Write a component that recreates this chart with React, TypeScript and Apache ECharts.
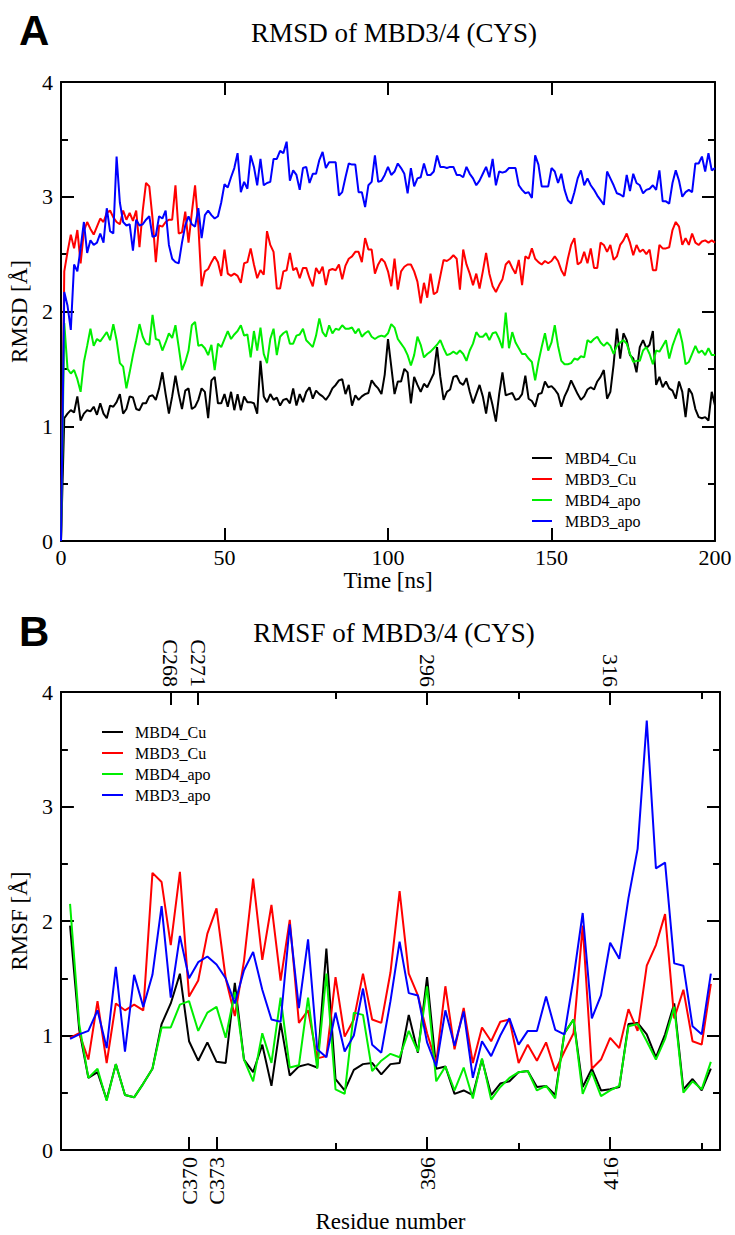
import React, { useEffect, useRef } from "react";
import * as echarts from "echarts";

// ---------- Panel A: RMSD vs time (ns), one sample per ns from 0 ----------
const TIME_START = 0;
const TIME_STEP = 1;
const rmsdMBD4Cu = [0, 1.07, 1.11, 1.14, 1.12, 1.26, 1.05, 1.11, 1.14, 1.13,
  1.17, 1.10, 1.20, 1.11, 1.07, 1.18, 1.17, 1.21, 1.28, 1.11,
  1.15, 1.26, 1.25, 1.15, 1.14, 1.20, 1.20, 1.26, 1.27, 1.23,
  1.33, 1.47, 1.28, 1.11, 1.26, 1.44, 1.28, 1.15, 1.31, 1.33,
  1.15, 1.17, 1.23, 1.33, 1.30, 1.07, 1.40, 1.43, 1.20, 1.20,
  1.28, 1.17, 1.30, 1.14, 1.28, 1.14, 1.26, 1.21, 1.21, 1.20,
  1.11, 1.57, 1.26, 1.21, 1.28, 1.23, 1.25, 1.18, 1.23, 1.24,
  1.20, 1.33, 1.18, 1.28, 1.21, 1.30, 1.34, 1.24, 1.31, 1.28,
  1.26, 1.23, 1.27, 1.33, 1.36, 1.40, 1.41, 1.28, 1.36, 1.18,
  1.27, 1.23, 1.26, 1.28, 1.29, 1.40, 1.36, 1.33, 1.28, 1.45,
  1.76, 1.52, 1.28, 1.39, 1.39, 1.50, 1.47, 1.20, 1.43, 1.36,
  1.30, 1.37, 1.34, 1.40, 1.46, 1.69, 1.43, 1.23, 1.30, 1.32,
  1.43, 1.44, 1.38, 1.36, 1.42, 1.30, 1.20, 1.28, 1.36, 1.26,
  1.11, 1.30, 1.18, 1.04, 1.28, 1.47, 1.27, 1.28, 1.29, 1.23,
  1.24, 1.28, 1.44, 1.24, 1.22, 1.17, 1.28, 1.29, 1.39, 1.34,
  1.35, 1.32, 1.28, 1.17, 1.26, 1.32, 1.40, 1.34, 1.28, 1.23,
  1.26, 1.32, 1.34, 1.32, 1.39, 1.43, 1.49, 1.24, 1.30, 1.54,
  1.85, 1.59, 1.81, 1.75, 1.62, 1.59, 1.47, 1.69, 1.75, 1.68,
  1.71, 1.83, 1.36, 1.43, 1.34, 1.39, 1.33, 1.31, 1.24, 1.39,
  1.30, 1.08, 1.33, 1.28, 1.15, 1.08, 1.07, 1.08, 1.05, 1.30,
  1.18];
const rmsdMBD3Cu = [0, 2.35, 2.52, 2.67, 2.55, 2.71, 2.42, 2.70, 2.78, 2.72,
  2.67, 2.74, 2.81, 2.78, 2.86, 2.88, 2.82, 2.78, 2.76, 2.88,
  2.80, 2.86, 2.79, 2.88, 2.56, 2.88, 3.12, 3.09, 2.81, 2.43,
  2.75, 2.74, 2.78, 2.80, 2.80, 3.10, 2.68, 2.69, 2.87, 2.60,
  2.86, 3.10, 2.75, 2.22, 2.35, 2.37, 2.43, 2.48, 2.43, 2.31,
  2.54, 2.33, 2.31, 2.33, 2.31, 2.25, 2.42, 2.43, 2.55, 2.41,
  2.29, 2.36, 2.32, 2.70, 2.58, 2.52, 2.20, 2.20, 2.35, 2.36,
  2.51, 2.36, 2.38, 2.29, 2.38, 2.38, 2.29, 2.22, 2.38, 2.33,
  2.39, 2.23, 2.36, 2.37, 2.36, 2.41, 2.28, 2.40, 2.46, 2.48,
  2.52, 2.52, 2.43, 2.64, 2.54, 2.54, 2.33, 2.41, 2.46, 2.43,
  2.35, 2.22, 2.46, 2.19, 2.35, 2.39, 2.41, 2.41, 2.35, 2.26,
  2.07, 2.25, 2.12, 2.33, 2.15, 2.17, 2.31, 2.45, 2.44, 2.46,
  2.49, 2.46, 2.19, 2.54, 2.41, 2.33, 2.23, 2.33, 2.20, 2.35,
  2.51, 2.33, 2.22, 2.17, 2.23, 2.28, 2.41, 2.44, 2.38, 2.33,
  2.45, 2.23, 2.48, 2.46, 2.55, 2.46, 2.43, 2.41, 2.44, 2.42,
  2.44, 2.48, 2.44, 2.36, 2.31, 2.46, 2.58, 2.64, 2.41, 2.43,
  2.52, 2.42, 2.55, 2.38, 2.38, 2.60, 2.58, 2.52, 2.58, 2.45,
  2.48, 2.58, 2.62, 2.68, 2.60, 2.49, 2.58, 2.52, 2.54, 2.50,
  2.54, 2.36, 2.36, 2.58, 2.55, 2.55, 2.56, 2.71, 2.78, 2.74,
  2.58, 2.64, 2.58, 2.68, 2.60, 2.58, 2.61, 2.62, 2.60, 2.62,
  2.60];
const rmsdMBD4apo = [0, 1.90, 1.50, 1.46, 1.49, 1.41, 1.30, 1.56, 1.70, 1.85,
  1.70, 1.76, 1.74, 1.78, 1.82, 1.75, 1.89, 1.75, 1.55, 1.52,
  1.33, 1.47, 1.62, 1.75, 1.89, 1.78, 1.72, 1.71, 1.97, 1.76,
  1.75, 1.66, 1.73, 1.81, 1.77, 1.88, 1.69, 1.49, 1.56, 1.66,
  1.88, 1.91, 1.70, 1.71, 1.68, 1.62, 1.71, 1.49, 1.72, 1.69,
  1.76, 1.83, 1.76, 1.80, 1.83, 1.88, 1.79, 1.80, 1.60, 1.83,
  1.66, 1.86, 1.63, 1.55, 1.76, 1.85, 1.62, 1.78, 1.81, 1.83,
  1.72, 1.72, 1.79, 1.80, 1.85, 1.75, 1.72, 1.69, 1.79, 1.94,
  1.82, 1.78, 1.88, 1.81, 1.85, 1.84, 1.88, 1.85, 1.85, 1.86,
  1.81, 1.85, 1.78, 1.81, 1.83, 1.78, 1.76, 1.78, 1.79, 1.78,
  1.81, 1.89, 1.86, 1.76, 1.72, 1.68, 1.62, 1.53, 1.62, 1.78,
  1.71, 1.60, 1.63, 1.65, 1.68, 1.71, 1.75, 1.68, 1.62, 1.63,
  1.65, 1.63, 1.66, 1.63, 1.57, 1.66, 1.72, 1.82, 1.78, 1.78,
  1.81, 1.75, 1.81, 1.82, 1.76, 1.68, 1.99, 1.68, 1.82, 1.73,
  1.68, 1.63, 1.63, 1.59, 1.56, 1.40, 1.56, 1.69, 1.81, 1.66,
  1.73, 1.88, 1.70, 1.57, 1.54, 1.54, 1.55, 1.59, 1.58, 1.61,
  1.60, 1.75, 1.73, 1.76, 1.78, 1.73, 1.70, 1.73, 1.70, 1.63,
  1.70, 1.73, 1.75, 1.72, 1.63, 1.56, 1.57, 1.57, 1.66, 1.69,
  1.63, 1.54, 1.66, 1.65, 1.70, 1.75, 1.59, 1.70, 1.78, 1.85,
  1.73, 1.54, 1.56, 1.63, 1.70, 1.64, 1.66, 1.62, 1.68, 1.62,
  1.62];
const rmsdMBD3apo = [0, 2.17, 2.05, 1.84, 2.41, 2.35, 2.55, 2.78, 2.51, 2.62,
  2.58, 2.60, 2.68, 2.60, 2.90, 2.70, 2.68, 3.35, 2.95, 2.78,
  2.75, 2.76, 2.53, 2.80, 2.75, 2.76, 2.80, 2.83, 2.65, 2.66,
  2.83, 2.81, 2.88, 2.58, 2.46, 2.43, 2.42, 2.60, 2.75, 2.83,
  2.76, 2.74, 2.90, 2.64, 2.84, 2.88, 2.84, 2.81, 2.83, 2.95,
  3.11, 3.08, 3.17, 3.25, 3.38, 3.04, 3.13, 3.07, 3.36, 3.26,
  3.10, 3.33, 3.10, 3.12, 3.13, 3.33, 3.33, 3.40, 3.38, 3.48,
  3.14, 3.23, 3.19, 3.06, 3.25, 3.26, 3.12, 3.20, 3.20, 3.32,
  3.39, 3.25, 3.30, 3.30, 3.30, 3.01, 3.04, 3.17, 3.29, 3.28,
  3.28, 3.04, 3.04, 2.91, 3.10, 3.13, 3.36, 3.13, 3.14, 3.19,
  3.26, 3.19, 3.22, 3.29, 3.25, 3.20, 3.03, 3.25, 3.09, 3.16,
  3.17, 3.29, 3.19, 3.19, 3.22, 3.36, 3.26, 3.26, 3.25, 3.26,
  3.26, 3.19, 3.19, 3.17, 3.26, 3.20, 3.16, 3.10, 3.14, 3.20,
  3.26, 3.17, 3.33, 3.10, 3.22, 3.21, 3.22, 3.25, 3.25, 3.25,
  3.10, 3.06, 3.03, 3.04, 2.99, 3.36, 3.28, 3.09, 3.09, 3.09,
  3.25, 3.22, 3.12, 3.20, 3.06, 2.97, 2.94, 3.04, 3.16, 3.23,
  3.10, 3.16, 3.10, 3.06, 3.01, 2.97, 2.93, 3.22, 3.16, 3.10,
  3.03, 3.02, 3.00, 3.19, 3.05, 3.20, 3.12, 3.10, 3.03, 3.06,
  3.07, 3.10, 3.06, 3.23, 2.96, 2.96, 2.94, 3.12, 3.23, 3.14,
  3.00, 3.04, 3.06, 3.04, 3.29, 3.29, 3.35, 3.22, 3.38, 3.23,
  3.25];

// ---------- Panel B: RMSF per residue, residues 357..427 ----------
const RESIDUE_START = 357;
const rmsfMBD4Cu = [1.96, 1.05, 0.63, 0.68, 0.44, 0.75, 0.48, 0.46, 0.58, 0.71,
  1.10, 1.28, 1.54, 0.95, 0.78, 0.94, 0.77, 0.76, 1.46, 0.79,
  0.68, 0.92, 0.56, 1.11, 0.65, 0.73, 0.75, 0.72, 1.76, 0.62,
  0.52, 0.70, 0.75, 0.76, 0.66, 0.75, 0.76, 1.18, 0.85, 1.51,
  0.71, 0.73, 0.49, 0.52, 0.48, 0.79, 0.48, 0.58, 0.60, 0.68,
  0.69, 0.55, 0.56, 0.48, 1.02, 1.14, 0.55, 0.71, 0.52, 0.53,
  0.55, 1.10, 1.11, 1.01, 0.81, 1.01, 1.28, 0.53, 0.62, 0.52,
  0.71];
const rmsfMBD3Cu = [0.98, 1.02, 0.79, 1.30, 0.76, 1.28, 1.22, 1.27, 1.22, 2.42,
  2.34, 1.79, 2.43, 1.34, 1.48, 1.89, 2.11, 1.50, 1.17, 1.65,
  2.37, 1.66, 2.14, 1.48, 2.01, 1.11, 1.22, 0.80, 0.82, 1.51,
  0.99, 1.14, 1.54, 1.14, 1.11, 1.55, 2.26, 1.54, 1.35, 1.02,
  0.76, 1.43, 0.88, 1.24, 0.76, 1.07, 0.95, 1.12, 1.14, 0.76,
  0.92, 0.78, 0.94, 0.69, 0.86, 1.02, 1.96, 0.71, 0.79, 0.98,
  0.89, 1.23, 1.04, 1.61, 1.79, 2.06, 1.15, 1.40, 0.95, 0.92,
  1.45];
const rmsfMBD4apo = [2.15, 1.10, 0.63, 0.71, 0.43, 0.75, 0.48, 0.46, 0.58, 0.71,
  1.07, 1.07, 1.27, 1.30, 1.04, 1.20, 1.25, 0.98, 1.38, 0.79,
  0.60, 1.02, 0.76, 1.33, 0.72, 0.74, 1.33, 0.71, 1.54, 0.53,
  0.49, 1.20, 1.18, 0.69, 0.78, 0.84, 0.81, 1.04, 0.86, 1.43,
  0.60, 0.73, 0.52, 0.72, 0.45, 0.80, 0.44, 0.55, 0.63, 0.68,
  0.69, 0.52, 0.56, 0.45, 1.02, 1.14, 0.49, 0.68, 0.47, 0.52,
  0.56, 1.08, 1.10, 0.95, 0.79, 0.97, 1.25, 0.50, 0.60, 0.53,
  0.77];
const rmsfMBD3apo = [0.97, 1.01, 1.04, 1.22, 0.89, 1.60, 0.86, 1.53, 1.25, 1.53,
  2.13, 1.33, 1.87, 1.50, 1.64, 1.69, 1.62, 1.50, 1.28, 1.57,
  1.73, 1.40, 1.14, 1.12, 1.97, 1.24, 1.84, 0.88, 0.81, 1.20,
  0.86, 1.00, 1.41, 0.92, 0.85, 1.30, 1.82, 1.37, 1.35, 0.94,
  0.73, 1.22, 0.91, 1.21, 0.63, 0.95, 0.82, 1.00, 1.15, 0.92,
  1.04, 1.04, 1.34, 1.05, 1.01, 1.50, 2.07, 1.15, 1.35, 1.81,
  1.67, 2.20, 2.63, 3.75, 2.46, 2.51, 1.63, 1.61, 1.08, 1.01,
  1.54];

const seriesNames = ["MBD4_Cu", "MBD3_Cu", "MBD4_apo", "MBD3_apo"];
const seriesColors = ["#000000", "#ff0000", "#00ee00", "#0000ff"];

// Tick labels
const timeTicks = [0, 50, 100, 150, 200];
const bottomMajorTicks = [370, 373, 396, 416];
const bottomMajorLabels = ["C370", "C373", "396", "416"];
const topMajorTicks = [368, 371, 396, 416];
const topMajorLabels = ["C268", "C271", "296", "316"];
const residueMinorTicks = [386, 406, 426];

const SERIF = "'Liberation Serif', 'DejaVu Serif', serif";
const SANS = "'Liberation Sans', Arial, sans-serif";

export default function App() {
  const ref = useRef<HTMLDivElement>(null);
  useEffect(() => {
    if (!ref.current) return;
    const chart = echarts.init(ref.current, undefined, { renderer: "svg" });

    const axisLine = { show: true, onZero: false, lineStyle: { color: "#000", width: 2 } };
    const label = { color: "#000", fontFamily: SERIF, fontSize: 22 };
    const nameStyle = { fontFamily: SERIF, fontSize: 23, color: "#000" };

    const rmsdSets = [rmsdMBD4Cu, rmsdMBD3Cu, rmsdMBD4apo, rmsdMBD3apo];
    const rmsfSets = [rmsfMBD4Cu, rmsfMBD3Cu, rmsfMBD4apo, rmsfMBD3apo];

    const series: any[] = [];
    rmsdSets.forEach((arr, k) => {
      series.push({
        type: "line", name: seriesNames[k], xAxisIndex: 0, yAxisIndex: 0,
        data: arr.map((v, i) => [TIME_START + i * TIME_STEP, v]),
        showSymbol: false, color: seriesColors[k],
        lineStyle: { color: seriesColors[k], width: 2 }, z: 2 + k,
      });
    });
    rmsfSets.forEach((arr, k) => {
      series.push({
        type: "line", name: seriesNames[k], xAxisIndex: 2, yAxisIndex: 2,
        data: arr.map((v, i) => [RESIDUE_START + i, v]),
        showSymbol: false, color: seriesColors[k],
        lineStyle: { color: seriesColors[k], width: 2 }, z: 2 + k,
      });
    });

    const yCommon = (gridIndex: number, position: string, showLabel: boolean) => ({
      type: "value", gridIndex, position, min: 0, max: 4, interval: 1,
      axisLine, splitLine: { show: false },
      axisTick: { show: true, inside: true, length: 13, lineStyle: { color: "#000", width: 2 } },
      minorTick: { show: true, splitNumber: 2, length: 7, lineStyle: { color: "#000", width: 2 } },
      axisLabel: { show: showLabel, ...label, margin: 8 },
    });

    const option: any = {
      animation: false,
      backgroundColor: "#fff",
      title: [
        { text: "RMSD of MBD3/4 (CYS)", left: 389, top: 14, textAlign: "center",
          textStyle: { fontFamily: SERIF, fontSize: 27, fontWeight: "normal", color: "#000" } },
        { text: "RMSF of MBD3/4 (CYS)", left: 389, top: 614, textAlign: "center",
          textStyle: { fontFamily: SERIF, fontSize: 27, fontWeight: "normal", color: "#000" } },
        { text: "A", left: 14, top: 4,
          textStyle: { fontFamily: SANS, fontSize: 42, fontWeight: "bold", color: "#000" } },
        { text: "B", left: 14, top: 605,
          textStyle: { fontFamily: SANS, fontSize: 42, fontWeight: "bold", color: "#000" } },
      ],
      legend: [
        { data: seriesNames, orient: "vertical", left: 527, top: 445, icon: "rect",
          itemWidth: 20, itemHeight: 2, itemGap: 5,
          textStyle: { fontFamily: SERIF, fontSize: 16, color: "#000", lineHeight: 16, padding: [0, 0, 0, 8] } },
        { data: seriesNames, orient: "vertical", left: 97, top: 719, icon: "rect",
          itemWidth: 21, itemHeight: 2, itemGap: 5,
          textStyle: { fontFamily: SERIF, fontSize: 16, color: "#000", lineHeight: 16, padding: [0, 0, 0, 7] } },
      ],
      grid: [
        { left: 61, top: 82, width: 654, height: 459, containLabel: false },
        { left: 57, top: 692, width: 663, height: 458, containLabel: false },
      ],
      xAxis: [
        { type: "value", gridIndex: 0, position: "bottom", min: 0, max: 200, interval: 50,
          axisLine, splitLine: { show: false },
          axisTick: { show: true, inside: true, length: 13, lineStyle: { color: "#000", width: 2 } },
          axisLabel: { ...label, margin: 5, customValues: timeTicks },
          name: "Time [ns]", nameLocation: "middle", nameGap: 27, nameTextStyle: nameStyle },
        { type: "value", gridIndex: 0, position: "top", min: 0, max: 200, interval: 50,
          axisLine, splitLine: { show: false },
          axisTick: { show: true, inside: true, length: 13, lineStyle: { color: "#000", width: 2 } },
          axisLabel: { show: false } },
        { type: "value", gridIndex: 1, position: "bottom", min: 356, max: 428,
          axisLine, splitLine: { show: false },
          axisTick: { show: true, inside: true, length: 13, customValues: bottomMajorTicks,
            lineStyle: { color: "#000", width: 2 } },
          axisLabel: { ...label, margin: 7, rotate: 90, customValues: bottomMajorTicks,
            formatter: (v: number) => bottomMajorLabels[bottomMajorTicks.indexOf(v)] ?? "" },
          name: "Residue number", nameLocation: "middle", nameGap: 60, nameTextStyle: nameStyle },
        { type: "value", gridIndex: 1, position: "bottom", min: 356, max: 428,
          axisLine: { show: false, onZero: false }, splitLine: { show: false },
          axisTick: { show: true, inside: true, length: 7, customValues: residueMinorTicks,
            lineStyle: { color: "#000", width: 2 } },
          axisLabel: { show: false } },
        { type: "value", gridIndex: 1, position: "top", min: 356, max: 428,
          axisLine, splitLine: { show: false },
          axisTick: { show: true, inside: true, length: 13, customValues: topMajorTicks,
            lineStyle: { color: "#000", width: 2 } },
          axisLabel: { ...label, margin: 5, rotate: 90, customValues: topMajorTicks,
            formatter: (v: number) => topMajorLabels[topMajorTicks.indexOf(v)] ?? "" } },
        { type: "value", gridIndex: 1, position: "top", min: 356, max: 428,
          axisLine: { show: false, onZero: false }, splitLine: { show: false },
          axisTick: { show: true, inside: true, length: 7, customValues: residueMinorTicks,
            lineStyle: { color: "#000", width: 2 } },
          axisLabel: { show: false } },
      ],
      yAxis: [
        { ...yCommon(0, "left", true), name: "RMSD [Å]", nameLocation: "middle", nameGap: 28,
          nameTextStyle: nameStyle },
        yCommon(0, "right", false),
        { ...yCommon(1, "left", true), name: "RMSF [Å]", nameLocation: "middle", nameGap: 24,
          nameTextStyle: nameStyle },
        yCommon(1, "right", false),
      ],
      series,
    };
    chart.setOption(option);
    return () => chart.dispose();
  }, []);
  return (
    <div
      ref={ref}
      style={{ position: "absolute", left: 0, top: 0, width: 735, height: 1235, background: "#fff" }}
    />
  );
}
